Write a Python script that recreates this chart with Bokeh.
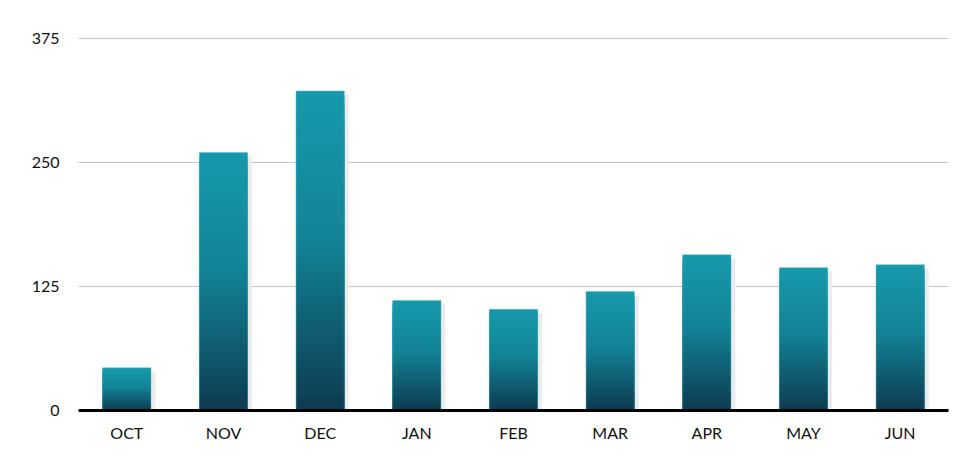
import numpy as np
from bokeh.embed import file_html
from bokeh.models import ColumnDataSource, FixedTicker
from bokeh.plotting import figure
from bokeh.resources import INLINE
from bokeh.transform import dodge

months = ["OCT", "NOV", "DEC", "JAN", "FEB", "MAR", "APR", "MAY", "JUN"]
values = [43, 260, 322, 111, 102, 120, 157, 144, 147]
y_ticks = [0, 125, 250, 375]

# gradient stops, top of bar -> bottom
stops = [(0.0, (0x17, 0x99, 0xab)), (0.45, (0x13, 0x84, 0x97)), (1.0, (0x0d, 0x3c, 0x52))]
n_slices = 60


def grad_color(t):
    for (t0, c0), (t1, c1) in zip(stops[:-1], stops[1:]):
        if t <= t1:
            f = (t - t0) / (t1 - t0)
            rgb = [round(a + (b - a) * f) for a, b in zip(c0, c1)]
            return "#%02x%02x%02x" % tuple(rgb)
    return "#%02x%02x%02x" % stops[-1][1]


p = figure(
    x_range=months, y_range=(0, 380), width=964, height=455,
    output_backend="svg", toolbar_location=None,
    min_border_left=78, min_border_right=16, min_border_top=33, min_border_bottom=45,
)
p.outline_line_color = None
p.background_fill_color = "white"

# soft shadow behind each bar
shadow = ColumnDataSource(dict(month=months, top=[v - 4 for v in values]))
p.vbar(x=dodge("month", 0.045, range=p.x_range), top="top", bottom=0, width=0.5,
       source=shadow, fill_color="#ececec", line_color=None)

# bars drawn as overlapping slices (each down to 0) to fake the vertical gradient
xs, tops, colors = [], [], []
for m, v in zip(months, values):
    edges = np.linspace(v, 0, n_slices + 1)
    for i in range(n_slices):
        xs.append(m)
        tops.append(edges[i])
        colors.append(grad_color(i / (n_slices - 1)))
src = ColumnDataSource(dict(month=xs, top=tops, color=colors))
p.vbar(x="month", top="top", bottom=0, width=0.5, source=src,
       fill_color="color", line_color=None)

# thin light rim round the bars
p.vbar(x=months, top=values, bottom=0, width=0.5, fill_color=None,
       line_color="#5bbccb", line_alpha=0.5, line_width=1)

p.ygrid.ticker = FixedTicker(ticks=y_ticks)
p.ygrid.grid_line_color = "#c4c4c4"
p.ygrid.grid_line_width = 1
p.xgrid.grid_line_color = None

p.yaxis.ticker = FixedTicker(ticks=y_ticks)
p.yaxis.axis_line_color = None
p.yaxis.major_tick_line_color = None
p.yaxis.minor_tick_line_color = None
p.yaxis.major_label_standoff = 13

p.xaxis.axis_line_color = "black"
p.xaxis.axis_line_width = 3
p.xaxis.major_tick_line_color = None
p.xaxis.major_label_standoff = 6

for ax in (p.xaxis, p.yaxis):
    ax.major_label_text_font = "Lato"
    ax.major_label_text_font_size = "16px"
    ax.major_label_text_color = "#111111"

open("out.html", "w").write(file_html(p, INLINE))
